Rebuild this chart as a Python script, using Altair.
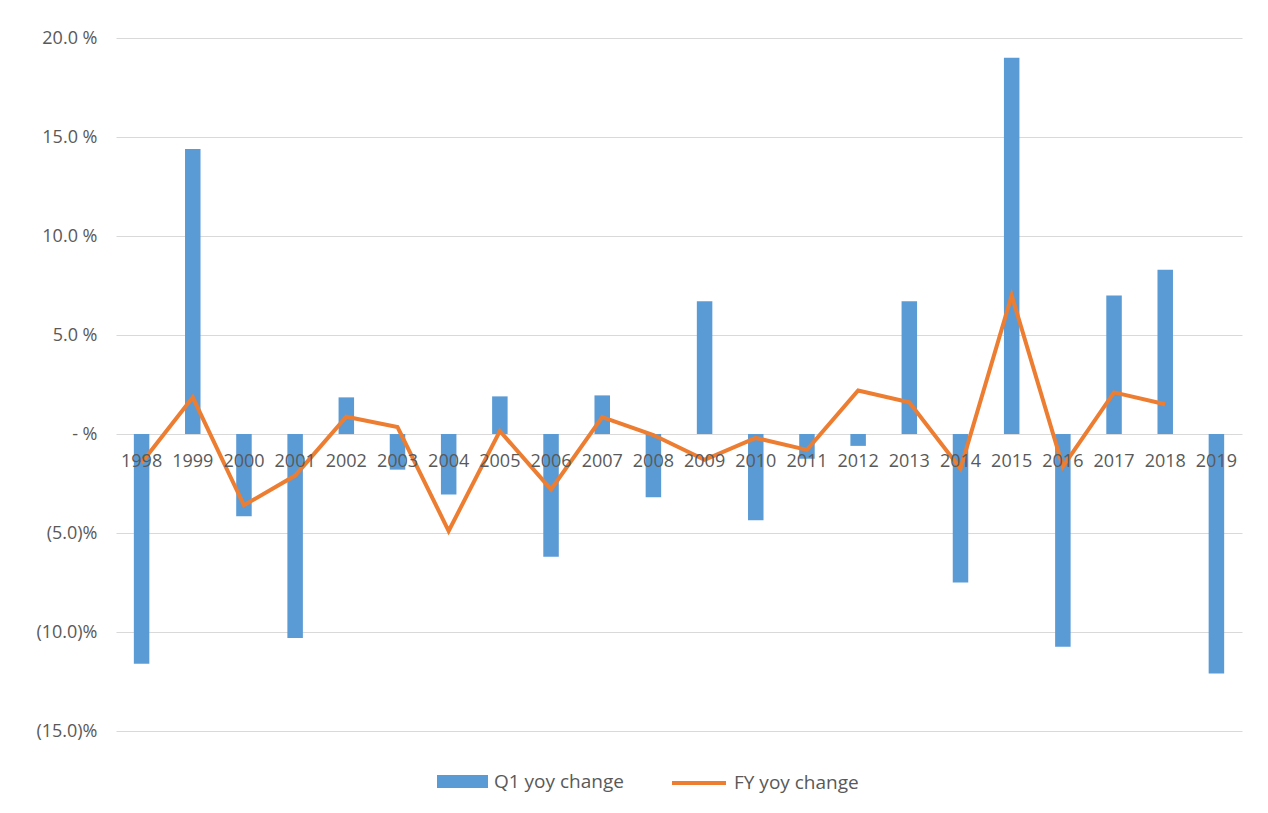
import altair as alt
import pandas as pd

years = [str(y) for y in range(1998, 2020)]
q1_change = [-11.6, 14.4, -4.15, -10.3, 1.85, -1.8, -3.05, 1.9, -6.2, 1.95, -3.2,
             6.7, -4.35, -1.25, -0.6, 6.7, -7.5, 19.0, -10.75, 7.0, 8.3, -12.1]
fy_change = [-1.45, 1.85, -3.6, -2.1, 0.87, 0.35, -4.9, 0.15, -2.8, 0.85, -0.05,
             -1.3, -0.2, -0.8, 2.2, 1.6, -1.75, 7.0, -1.65, 2.1, 1.5, None]

bar_df = pd.DataFrame({"year": years, "value": q1_change, "series": "Q1 yoy change"})
line_df = pd.DataFrame({"year": years, "value": fy_change, "series": "FY yoy change"}).dropna()

FONT = "Open Sans"
TXT = "#595959"
W, H = 1126, 693
ZERO_FROM_BOTTOM = H * 15 / 35

x_enc = alt.X("year:N", sort=years, title=None,
              scale=alt.Scale(paddingInner=0, paddingOuter=0),
              axis=alt.Axis(orient="bottom", domain=False, ticks=False, labelAngle=0,
                            labelPadding=18, labelFontSize=18, labelFont=FONT,
                            labelColor=TXT, offset=-ZERO_FROM_BOTTOM, zindex=1,
                            grid=False, labelOverlap=False))

y_enc = alt.Y("value:Q", title=None,
              scale=alt.Scale(domain=[-15, 20], nice=False, zero=False),
              axis=alt.Axis(values=[-15, -10, -5, 0, 5, 10, 15, 20], ticks=False,
                            domain=False, grid=True, gridColor="#d9d9d9", gridWidth=1,
                            labelPadding=19, labelFontSize=18, labelFont=FONT,
                            labelColor=TXT,
                            labelExpr="datum.value > 0 ? format(datum.value, '.1f') + ' %' : "
                                      "(datum.value == 0 ? '- %' : '(' + format(-datum.value, '.1f') + ')%')"))

bars = alt.Chart(bar_df).mark_bar(size=15.5).encode(
    x=x_enc,
    y=y_enc,
    fill=alt.Fill("series:N",
                  scale=alt.Scale(domain=["Q1 yoy change"], range=["#5b9bd5"]),
                  legend=alt.Legend(title=None, orient="none", legendX=321, legendY=718,
                                    symbolType="M-1,-0.255H1V0.255H-1Z", symbolSize=2601,
                                    symbolStrokeWidth=0, labelFontSize=19, labelFont=FONT,
                                    labelColor=TXT, labelOffset=6, padding=0)),
)

line = alt.Chart(line_df).mark_line(strokeWidth=4, color="#ed7d31").encode(
    x=alt.X("year:N", sort=years),
    y=alt.Y("value:Q"),
    stroke=alt.Stroke("series:N",
                      scale=alt.Scale(domain=["FY yoy change"], range=["#ed7d31"]),
                      legend=alt.Legend(title=None, orient="none", legendX=554, legendY=716,
                                        symbolType="stroke", symbolSize=2916,
                                        symbolStrokeWidth=4, labelFontSize=19,
                                        labelFont=FONT, labelColor=TXT, labelOffset=6,
                                        padding=0)),
)

chart = alt.layer(bars, line).properties(
    width=W, height=H,
    autosize=alt.AutoSizeParams(type="none"),
    padding={"left": 108, "top": 30, "right": 18, "bottom": 70},
).configure(background="white").configure_view(stroke="transparent", strokeWidth=0)

chart.save("out.html", embed_options={"renderer": "svg", "actions": False})
